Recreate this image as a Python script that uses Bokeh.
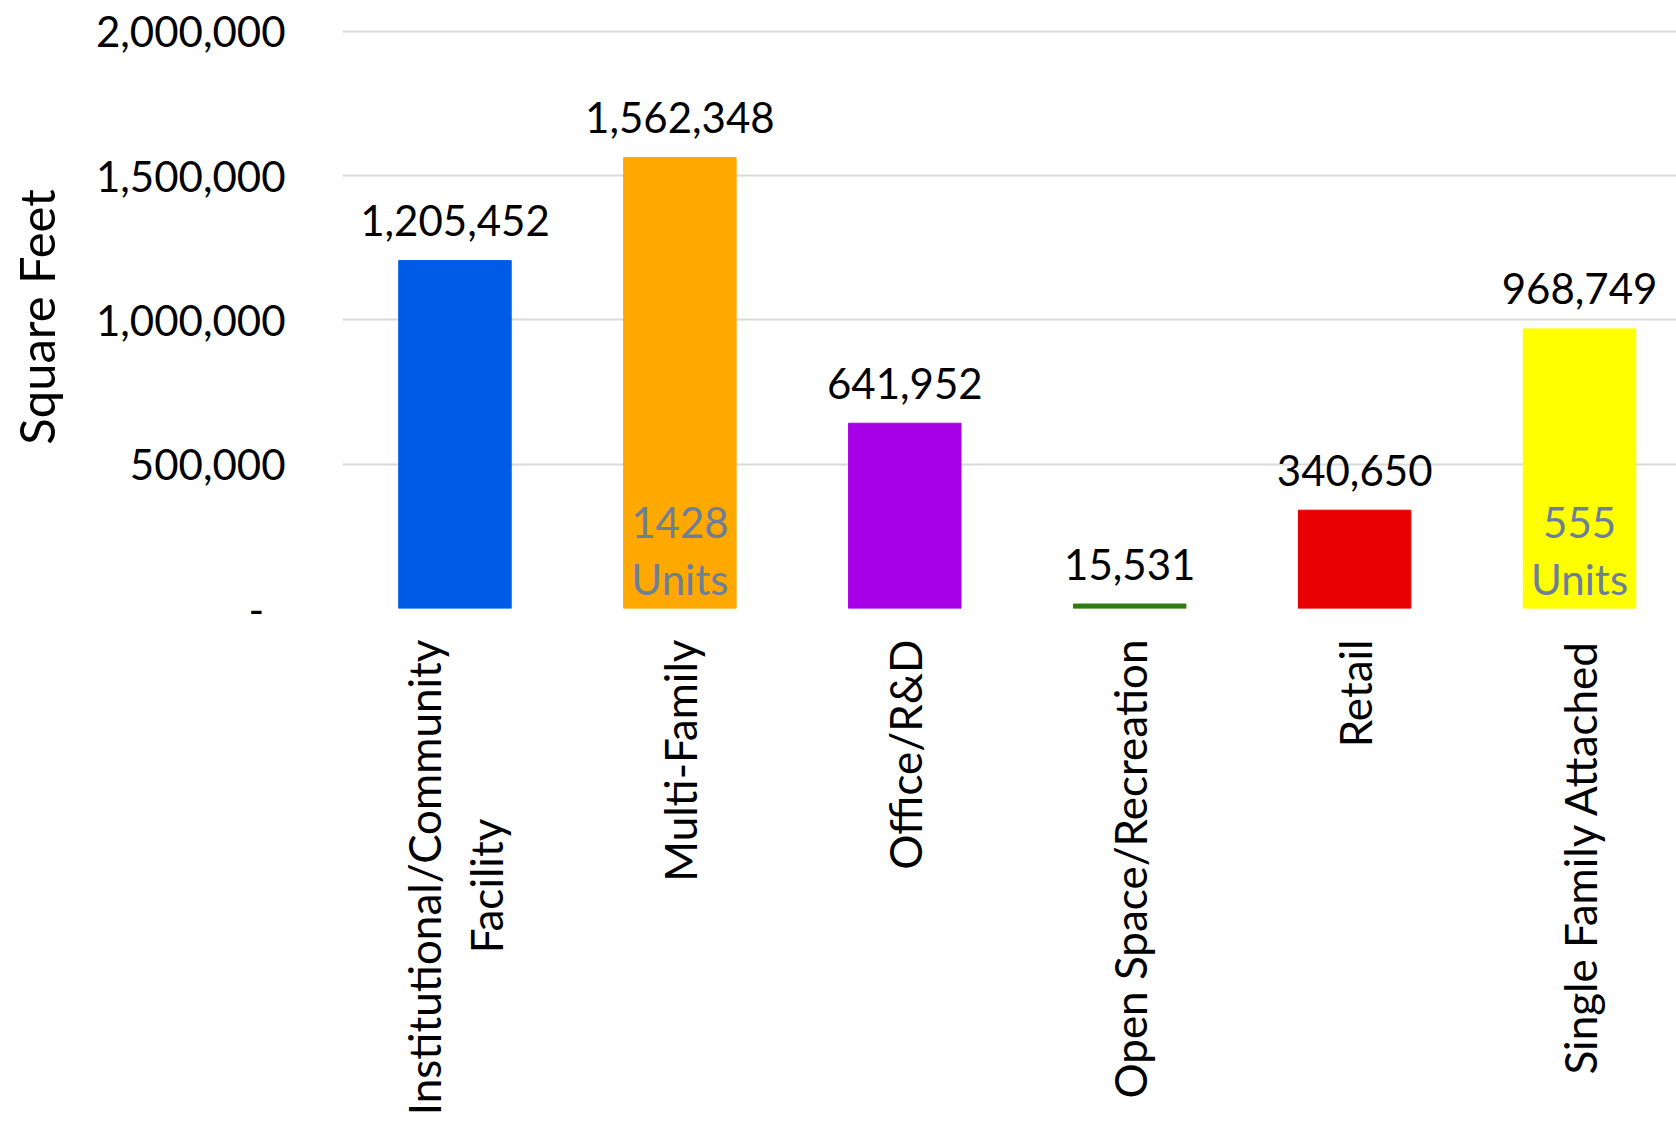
from bokeh.plotting import figure
from bokeh.models import Range1d, FixedTicker, NumeralTickFormatter, ColumnDataSource
from bokeh.core.properties import value
from bokeh.embed import file_html
from bokeh.resources import INLINE
import math

NB = "\u00a0"
categories = ["Institutional/Community\nFacility" + NB * 16, "Multi-Family", "Office/R&D",
              "Open Space/Recreation", "Retail", "Single Family Attached"]
square_feet = [1205452, 1562348, 641952, 15531, 340650, 968749]
units = [None, 1428, None, None, None, 555]
bar_colors = ["#005CE6", "#FFA800", "#A800E6", "#2E7D12", "#E60000", "#FFFF00"]
y_ticks = [0, 500000, 1000000, 1500000, 2000000]

FONT = "Lato"
FS = "42px"

xs = list(range(len(categories)))
src = ColumnDataSource(dict(
    x=xs, top=square_feet, color=bar_colors,
    label=[f"{v:,}" for v in square_feet],
))

p = figure(width=1676, height=1121, output_backend="svg", toolbar_location=None,
           x_range=Range1d(-0.5, 5.431), y_range=Range1d(0, 2020000),
           min_border_left=342, min_border_right=0, min_border_top=25,
           min_border_bottom=513)
p.outline_line_color = None
p.background_fill_color = "white"
p.border_fill_color = "white"

p.vbar(x="x", top="top", width=0.5, color="color", source=src)

p.text(x="x", y="top", text="label", source=src, text_font=value(FONT),
       text_font_size=FS, text_align="center", text_baseline="middle",
       y_offset=-40, text_color="black")

ux = [x for x, u in zip(xs, units) if u is not None]
unum = [str(u) for u in units if u is not None]
uword = ["Units" for u in units if u is not None]
p.text(x=ux, y=[0] * len(ux), text=unum, text_font=value(FONT), text_font_size=FS,
       text_align="center", text_baseline="middle", y_offset=-86, text_color="#6B7F9C")
p.text(x=ux, y=[0] * len(ux), text=uword, text_font=value(FONT), text_font_size=FS,
       text_align="center", text_baseline="middle", y_offset=-30, text_color="#6B7F9C")

# grid
p.xgrid.grid_line_color = None
p.ygrid.grid_line_color = "#D9D9D9"
p.ygrid.grid_line_width = 2
p.ygrid.ticker = FixedTicker(ticks=y_ticks)

# y axis
p.yaxis.ticker = FixedTicker(ticks=y_ticks)
p.yaxis.formatter = NumeralTickFormatter(format="0,0")
p.yaxis.major_label_overrides = {0: "-" + NB * 2}
p.yaxis.axis_line_color = None
p.yaxis.major_tick_line_color = None
p.yaxis.minor_tick_line_color = None
p.yaxis.major_tick_out = 0
p.yaxis.major_label_standoff = 57
p.yaxis.major_label_text_font = FONT
p.yaxis.major_label_text_font_size = FS
p.yaxis.major_label_text_color = "black"
p.yaxis.axis_label = "Square Feet"
p.yaxis.axis_label_text_font = FONT
p.yaxis.axis_label_text_font_size = "49px"
p.yaxis.axis_label_text_font_style = "normal"
p.yaxis.axis_label_text_color = "black"
p.yaxis.axis_label_standoff = 28

# x axis
p.xaxis.ticker = FixedTicker(ticks=xs)
p.xaxis.major_label_overrides = {i: c for i, c in enumerate(categories)}
p.xaxis.major_label_orientation = math.pi / 2
p.xaxis.axis_line_color = None
p.xaxis.major_tick_line_color = None
p.xaxis.minor_tick_line_color = None
p.xaxis.major_tick_out = 0
p.xaxis.major_label_standoff = 31
p.xaxis.major_label_text_font = FONT
p.xaxis.major_label_text_font_size = "44px"
p.xaxis.major_label_text_color = "black"

open("out.html", "w").write(file_html(p, INLINE))
